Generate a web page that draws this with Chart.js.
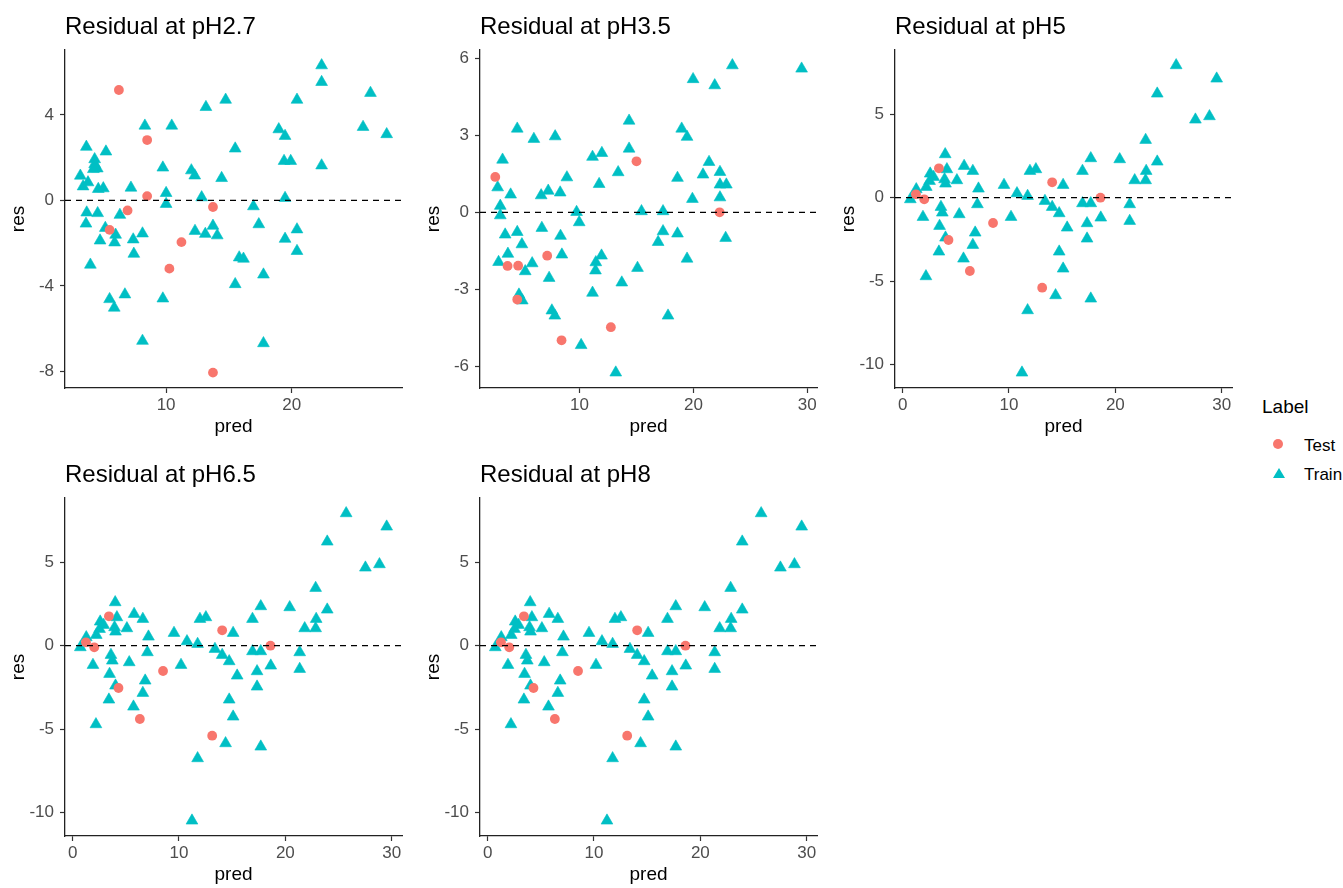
<!DOCTYPE html>
<html>
<head>
<meta charset="utf-8">
<title>Residuals by pH</title>
<script src="https://cdn.jsdelivr.net/npm/chart.js@4.4.1/dist/chart.umd.min.js"></script>
<style>
    body { margin: 0; background: #fff; width: 1343px; height: 888px; overflow: hidden; position: relative;
           font-family: "Liberation Sans", Arial, sans-serif; }
    .cell { position: absolute; width: 415px; }
    .cell canvas { display: block; }
    #legend { position: absolute; left: 1262px; top: 396px; width: 81px; height: 100px; }
    #legend .ttl { position: absolute; left: 0; top: 0; font-size: 19px; line-height: 22px; color: #000; }
    #legend .row { position: absolute; left: 0; width: 81px; height: 20px; }
    #legend .txt { position: absolute; left: 42px; top: 0; font-size: 17px; line-height: 20px; color: #000; }
    #legend .dot { position: absolute; left: 11px; top: 2.5px; width: 10px; height: 10px; border-radius: 50%; }
    #legend .tri { position: absolute; left: 11px; top: 3px; width: 0; height: 0;
                   border-left: 6px solid transparent; border-right: 6px solid transparent; border-bottom-style: solid; border-bottom-width: 10px; }
</style>
</head>
<body>
<div class="cell" style="left:0px;top:0px"><canvas id="p1" width="415" height="440"></canvas></div>
<div class="cell" style="left:415px;top:0px"><canvas id="p2" width="415" height="440"></canvas></div>
<div class="cell" style="left:830px;top:0px"><canvas id="p3" width="415" height="440"></canvas></div>
<div class="cell" style="left:0px;top:448px"><canvas id="p4" width="415" height="440"></canvas></div>
<div class="cell" style="left:415px;top:448px"><canvas id="p5" width="415" height="440"></canvas></div>
<div id="legend"></div>

<script>
// residuals, pred on x and res on y

// pH 2.7
var ph27TestPred = [6.24, 8.49, 8.49, 6.93, 5.5, 11.22, 10.26, 13.73, 13.73];
var ph27TestRes = [5.16, 2.82, 0.2, -0.47, -1.38, -1.95, -3.19, -0.31, -8.05];
var ph27TrainPred = [3.65, 3.17, 3.39, 3.78, 4.31, 4.31, 4.52, 4.21, 5.21, 4.6, 5.0, 7.2, 3.68, 4.55, 3.62, 6.32, 5.16,
    5.98, 4.74, 5.9, 7.38, 8.12, 7.43, 3.97, 5.5, 5.87, 6.72, 8.12, 8.31, 10.45, 9.74, 10.0, 10.0, 9.74, 12.01, 12.28,
    12.83, 12.3, 13.12, 13.73, 14.07, 13.17, 14.74, 14.42, 15.5, 16.95, 17.38, 15.82, 16.16, 15.5, 17.75, 17.75, 22.38,
    22.38, 20.42, 26.27, 18.97, 19.47, 19.39, 19.92, 22.38, 25.68, 27.56, 19.47, 20.42, 19.47, 20.42];
var ph27TrainRes = [2.5, 1.15, 0.65, 0.84, 1.92, 1.69, 1.49, 1.46, 2.28, 0.53, 0.56, 0.59, -0.57, -0.6, -1.09, -0.68, -1.29,
    -1.61, -1.88, -1.97, -1.83, -1.55, -2.5, -3.01, -4.62, -5.02, -4.4, -6.57, 3.49, 3.49, 1.53, 0.34, -0.17, -4.59, 1.4, 1.16,
    0.14, -1.43, -1.57, -1.19, -1.64, 4.36, 4.7, 1.04, 2.42, -0.28, -1.12, -2.67, -2.73, -3.92, -3.47, -6.68, 6.31,
    5.53, 4.7, 5.02, 3.32, 3.01, 1.84, 1.84, 1.63, 3.43, 3.09, 0.11, -1.36, -1.8, -2.37];

// pH 3.5
var ph35TestPred = [2.6, 3.68, 4.61, 4.53, 7.16, 8.42, 12.75, 15.0, 22.3];
var ph35TestRes = [1.38, -2.09, -2.08, -3.4, -1.69, -4.99, -4.48, 1.99, 0.0];
var ph35TrainPred = [3.24, 2.81, 3.95, 3.04, 3.04, 4.53, 5.99, 7.86, 6.63, 7.25, 8.3, 8.89, 3.47, 4.53, 4.94, 6.69, 3.71,
    2.89, 5.23, 5.84, 7.33, 8.33, 8.45, 4.68, 4.97, 7.57, 7.83, 9.74, 9.97, 10.14, 11.14, 11.96, 11.72, 13.39, 14.35, 14.35,
    11.43, 11.4, 11.93, 11.14, 13.71, 13.18, 15.44, 17.33, 19.97, 21.87, 23.42, 29.5, 18.97, 19.44, 21.37, 20.84, 18.6,
    22.33, 22.33, 22.89, 19.91, 22.33, 17.33, 16.9, 18.6, 22.83, 19.44, 15.09, 17.77];
var ph35TrainRes = [2.05, 0.97, 0.69, 0.25, -0.12, 3.26, 2.86, 2.96, 0.66, 0.84, 0.77, 1.36, -0.87, -0.77, -1.25, -0.61, -1.62,
    -1.94, -2.3, -1.99, -2.56, -0.92, -1.65, -3.21, -3.44, -3.83, -4.03, 0.01, -0.39, -5.18, 2.16, 2.31, 1.1, 1.56, 3.57, 2.48,
    -1.95, -2.27, -1.69, -3.14, -2.74, -6.25, 0.04, 0.04, 5.19, 4.95, 5.73, 5.6, 3.26, 2.94, 1.96, 1.47, 1.34,
    1.57, 1.08, 1.08, 0.52, 0.58, -0.74, -1.16, -0.83, -1.0, -1.81, -2.17, -4.03];

// pH 5 (the pH 6.5 and pH 8 panels show the very same points)
var ph5TestPred = [1.25, 2.03, 3.41, 4.31, 6.32, 8.5, 13.12, 14.06, 18.6];
var ph5TestRes = [0.2, -0.1, 1.76, -2.54, -4.4, -1.52, -5.4, 0.92, 0.0];
var ph5TrainPred = [0.72, 1.28, 2.22, 2.53, 2.59, 2.91, 4.0, 4.16, 3.94, 4.03, 5.1, 5.78, 6.6, 7.13, 3.6, 3.73, 5.32, 7.03,
    1.91, 3.47, 4.03, 6.82, 6.6, 3.41, 5.72, 2.19, 9.53, 10.75, 10.19, 11.75, 11.97, 12.53, 11.75, 11.22, 15.09, 13.38,
    14.06, 14.72, 15.47, 14.72, 15.09, 14.38, 17.69, 16.91, 17.69, 16.91, 17.69, 17.34, 17.34, 18.63, 20.41, 21.35,
    21.35, 21.82, 22.85, 22.9, 22.85, 23.94, 23.94, 25.72, 27.53, 28.85, 29.53];
var ph5TrainRes = [-0.1, 0.5, 0.64, 1.0, 1.44, 1.24, 2.6, 1.7, 1.1, 0.84, 1.04, 1.9, 1.6, 0.54, -0.56, -0.9, -1.0, -0.4,
    -1.16, -1.7, -2.4, -2.1, -2.84, -3.24, -3.66, -4.72, 0.76, 0.26, -1.16, 0.1, 1.6, 1.7, -6.76, -10.5, 0.76, -0.2,
    -0.56, -0.94, -1.8, -3.24, -4.26, -5.86, -6.06, 1.6, 2.36, -0.34, -0.34, -1.54, -2.46, -1.2, 2.3, -0.4,
    -1.4, 1.04, 1.04, 1.6, 3.46, 2.16, 6.24, 7.94, 4.68, 4.88, 7.14];

// tick labels
var ph27XTicks = [10, 20];
var ph27YTicks = [-8, -4, 0, 4];
var ph35XTicks = [10, 20, 30];
var ph35YTicks = [-6, -3, 0, 3, 6];
var ph5XTicks = [0, 10, 20, 30];
var ph5YTicks = [-10, -5, 0, 5];

var FONT = '"Liberation Sans", Arial, sans-serif';
var RED = '#F8766D';
var TEAL = '#00BFC4';

Chart.defaults.font.family = FONT;

var panels = [
    { id: 'p1', title: 'Residual at pH2.7', testPred: ph27TestPred, testRes: ph27TestRes, trainPred: ph27TrainPred,
      trainRes: ph27TrainRes, xTicks: ph27XTicks, yTicks: ph27YTicks, xMin: 1.95, xMax: 28.78, yMin: -8.77, yMax: 7.03 },
    { id: 'p2', title: 'Residual at pH3.5', testPred: ph35TestPred, testRes: ph35TestRes, trainPred: ph35TrainPred,
      trainRes: ph35TrainRes, xTicks: ph35XTicks, yTicks: ph35YTicks, xMin: 1.26, xMax: 30.85, yMin: -6.85, yMax: 6.33 },
    { id: 'p3', title: 'Residual at pH5', testPred: ph5TestPred, testRes: ph5TestRes, trainPred: ph5TrainPred,
      trainRes: ph5TrainRes, xTicks: ph5XTicks, yTicks: ph5YTicks, xMin: -0.72, xMax: 30.97, yMin: -11.42, yMax: 8.86 },
    { id: 'p4', title: 'Residual at pH6.5', testPred: ph5TestPred, testRes: ph5TestRes, trainPred: ph5TrainPred,
      trainRes: ph5TrainRes, xTicks: ph5XTicks, yTicks: ph5YTicks, xMin: -0.72, xMax: 30.97, yMin: -11.42, yMax: 8.86 },
    { id: 'p5', title: 'Residual at pH8', testPred: ph5TestPred, testRes: ph5TestRes, trainPred: ph5TrainPred,
      trainRes: ph5TrainRes, xTicks: ph5XTicks, yTicks: ph5YTicks, xMin: -0.72, xMax: 30.97, yMin: -11.42, yMax: 8.86 }
];

// zip two arrays into {x, y} points
function toPoints(xs, ys) {
    var pts = [];
    for (var i = 0; i < xs.length; i++) {
        pts.push({ x: xs[i], y: ys[i] });
    }
    return pts;
}

function fixedTicks(values) {
    return function (scale) {
        scale.ticks = values.map(function (v) { return { value: v }; });
    };
}

var gridOpts = { drawOnChartArea: false, drawTicks: true, tickLength: 5, tickColor: '#333333', tickWidth: 1.2 };
var borderOpts = { display: true, color: '#222222', width: 1.3 };

function makeChart(p) {
    var ctx = document.getElementById(p.id).getContext('2d');
    return new Chart(ctx, {
        type: 'scatter',
        data: {
            datasets: [
                // dashed zero line, first so it is drawn on top
                { label: 'zero', data: [{ x: p.xMin, y: 0 }, { x: p.xMax, y: 0 }], showLine: true,
                  borderColor: '#000', borderWidth: 1.2, borderDash: [6, 5], pointRadius: 0 },
                { label: 'Test', data: toPoints(p.testPred, p.testRes), pointStyle: 'circle', pointRadius: 4.9,
                  backgroundColor: RED, borderColor: RED, borderWidth: 0 },
                { label: 'Train', data: toPoints(p.trainPred, p.trainRes), pointStyle: 'triangle', pointRadius: 6.8,
                  backgroundColor: TEAL, borderColor: TEAL, borderWidth: 0.6 }
            ]
        },
        options: {
            responsive: false,
            animation: false,
            events: [],
            layout: { padding: { left: 0, right: 13, top: 0, bottom: 0 } },
            plugins: {
                legend: { display: false },
                tooltip: { enabled: false },
                title: {
                    display: true, text: p.title, align: 'start', fullSize: false, color: '#000',
                    font: { size: 24, weight: 'normal', lineHeight: 1.2 },
                    padding: { top: 13, bottom: 8.2 }
                }
            },
            scales: {
                x: {
                    type: 'linear', min: p.xMin, max: p.xMax,
                    afterBuildTicks: fixedTicks(p.xTicks),
                    afterFit: function (s) { s.height = 52; },
                    grid: gridOpts, border: borderOpts,
                    ticks: { color: '#4d4d4d', font: { size: 17 }, padding: 2, maxRotation: 0, autoSkip: false },
                    title: { display: true, text: 'pred', color: '#000', font: { size: 19 }, padding: { top: 0, bottom: 2 } }
                },
                y: {
                    type: 'linear', min: p.yMin, max: p.yMax,
                    afterBuildTicks: fixedTicks(p.yTicks),
                    afterFit: function (s) { s.width = 65; },
                    grid: gridOpts, border: borderOpts,
                    ticks: { color: '#4d4d4d', font: { size: 17 }, padding: 6, autoSkip: false },
                    title: { display: true, text: 'res', color: '#000', font: { size: 19 }, padding: { top: 7, bottom: 0 } }
                }
            }
        }
    });
}

var charts = panels.map(makeChart);

// shared legend on the right, built from the first chart's datasets
function buildLegend(chart) {
    var box = document.getElementById('legend');
    var ttl = document.createElement('div');
    ttl.className = 'ttl';
    ttl.textContent = 'Label';
    box.appendChild(ttl);
    chart.data.datasets.slice(1).forEach(function (ds, i) {
        var row = document.createElement('div');
        row.className = 'row';
        row.style.top = (40 + i * 29) + 'px';
        var mark = document.createElement('span');
        if (ds.pointStyle === 'triangle') {
            mark.className = 'tri';
            mark.style.borderBottomColor = ds.backgroundColor;
        } else {
            mark.className = 'dot';
            mark.style.background = ds.backgroundColor;
        }
        var txt = document.createElement('span');
        txt.className = 'txt';
        txt.textContent = ds.label;
        row.appendChild(mark);
        row.appendChild(txt);
        box.appendChild(row);
    });
}

buildLegend(charts[0]);
</script>
</body>
</html>
